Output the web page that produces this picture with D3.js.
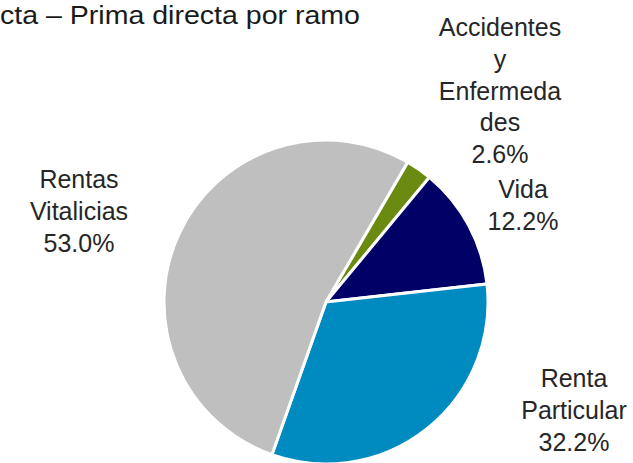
<!DOCTYPE html>
<html><head><meta charset="utf-8">
<script src="https://cdn.jsdelivr.net/npm/d3@7"></script>
<style>html,body{margin:0;padding:0;background:#fff;overflow:hidden}</style>
</head><body>
<svg id="c" width="633" height="463"></svg>
<script>
const categories = ["Accidentes y Enfermedades", "Vida", "Renta Particular", "Rentas Vitalicias"];
const values = [2.6, 12.2, 32.2, 53.0];
const labelLines = [
  ["Accidentes", "y", "Enfermeda", "des", "2.6%"],
  ["Vida", "12.2%"],
  ["Renta", "Particular", "32.2%"],
  ["Rentas", "Vitalicias", "53.0%"]
];
const colors = ["#6B8A12", "#000066", "#008BC0", "#BFBFBF"];
const titleText = "cta – Prima directa por ramo";

const svg = d3.select("#c");
const cx = 326, cy = 302, r = 162;
const g = svg.append("g").attr("transform", `translate(${cx},${cy})`);
const start = 30.3 * Math.PI / 180;
const pie = d3.pie().sort(null).value(d => d).startAngle(start).endAngle(start + 2 * Math.PI);
const arc = d3.arc().innerRadius(0).outerRadius(r);
const arcs = pie(values);
g.selectAll("path").data(arcs).join("path")
  .attr("d", arc)
  .attr("fill", (d, i) => colors[i])
  .attr("stroke", "#fff").attr("stroke-width", 3).attr("stroke-linejoin", "miter");

// label anchor positions (center x, first baseline y)
const labelPos = [[500, 36], [523, 198], [574, 387], [79, 188]];
const lh = 31.8;
labelLines.forEach((lines, i) => {
  const t = svg.append("text")
    .attr("text-anchor", "middle")
    .attr("font-family", "Liberation Sans, Arial, sans-serif")
    .attr("font-size", 25).attr("fill", "#262626");
  lines.forEach((ln, j) => {
    t.append("tspan").attr("x", labelPos[i][0]).attr("y", labelPos[i][1] + j * lh).text(ln);
  });
});

svg.append("text")
  .attr("x", 0).attr("y", 24)
  .attr("font-family", "Liberation Sans Narrow, Arial Narrow, sans-serif")
  .attr("font-size", 26).attr("fill", "#1a1a1a")
  .attr("textLength", 360).attr("lengthAdjust", "spacingAndGlyphs")
  .text(titleText);
</script>
</body></html>
